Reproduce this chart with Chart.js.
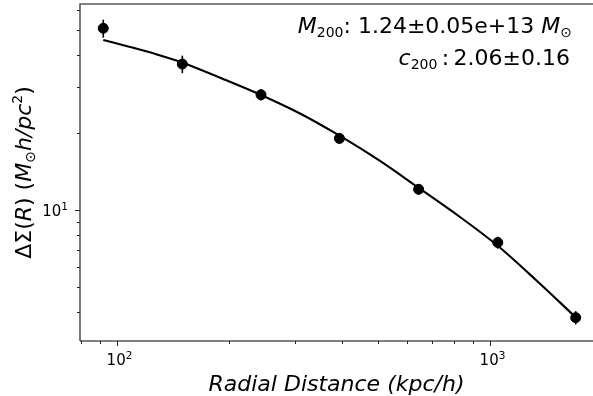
<!DOCTYPE html>
<html>
<head>
<meta charset="utf-8">
<script src="https://cdn.jsdelivr.net/npm/chart.js@4/dist/chart.umd.min.js"></script>
<style>
body { margin: 0; background: #fff; }
canvas { display: block; }
</style>
</head>
<body>
<canvas id="chart" width="593" height="396"></canvas>
<script>
// stacked lensing profile, kpc/h vs M_sun h / pc^2
const radius = [91.9, 149.7, 243.3, 394.6, 643.5, 1049, 1697];
const deltaSigma = [51.0, 37.0, 28.1, 19.0, 12.04, 7.47, 3.81];
const deltaSigmaErr = [4.1, 2.9, 1.4, 0.9, 0.55, 0.4, 0.23];

// best-fit NFW model
const fitRadius = [91.9, 108.4, 128.0, 149.4, 191.2, 243.2, 309.5, 396.2, 507.1, 641.2, 830.8, 1050.6, 1336.5, 1700.6];
const fitDeltaSigma = [45.92, 43.13, 40.33, 37.53, 32.51, 28.05, 23.76, 19.42, 15.52, 12.24, 9.39, 7.24, 5.29, 3.81];

const xTicks = [80, 90, 100, 200, 300, 400, 500, 600, 700, 800, 900, 1000];
const xMajor = [100, 1000];
const yTicks = [4, 5, 6, 7, 8, 9, 10, 20, 30, 40, 50, 60];
const yMajor = [10];

const xRange = [79.6, 1888];
const yRange = [3.09, 63.4];

const FONT = '"DejaVu Sans"';

function drawRuns(ctx, runs, x, y, align) {
    let total = 0;
    runs.forEach(r => {
        ctx.font = r.font;
        r.w = ctx.measureText(r.t).width;
        total += r.w;
    });
    let cx = align === 'right' ? x - total : align === 'center' ? x - total / 2 : x;
    ctx.textAlign = 'left';
    ctx.textBaseline = 'alphabetic';
    runs.forEach(r => {
        ctx.font = r.font;
        ctx.fillText(r.t, cx, y + (r.dy || 0));
        cx += r.w;
    });
}

// 10^n tick label with a raised exponent
function powerLabel(v) {
    return [
        { t: '10', font: `15px ${FONT}` },
        { t: String(Math.round(Math.log10(v))), font: `10.5px ${FONT}`, dy: -6 }
    ];
}

const errorBars = {
    id: 'errorBars',
    afterDatasetsDraw(chart) {
        const { ctx, scales: { x, y } } = chart;
        ctx.save();
        ctx.strokeStyle = '#000';
        ctx.lineWidth = 1.6;
        radius.forEach((r, i) => {
            const px = x.getPixelForValue(r);
            ctx.beginPath();
            ctx.moveTo(px, y.getPixelForValue(deltaSigma[i] + deltaSigmaErr[i]));
            ctx.lineTo(px, y.getPixelForValue(deltaSigma[i] - deltaSigmaErr[i]));
            ctx.stroke();
        });
        ctx.restore();
    }
};

const axisDecor = {
    id: 'axisDecor',
    afterDraw(chart) {
        const { ctx, chartArea: a, scales: { x, y } } = chart;
        ctx.save();

        // spines
        ctx.lineWidth = 1.6;
        ctx.strokeStyle = '#5a5a5a';
        ctx.beginPath();
        ctx.moveTo(a.left, a.bottom);
        ctx.lineTo(a.left, a.top);
        ctx.lineTo(a.right, a.top);
        ctx.stroke();
        ctx.lineWidth = 1.2;
        ctx.strokeStyle = '#000';
        ctx.beginPath();
        ctx.moveTo(a.left, a.bottom);
        ctx.lineTo(a.right, a.bottom);
        ctx.stroke();

        // tick marks, major longer than minor
        ctx.lineWidth = 1;
        ctx.strokeStyle = '#222';
        ctx.fillStyle = '#000';
        xTicks.forEach(v => {
            const px = Math.round(x.getPixelForValue(v)) + 0.5;
            const major = xMajor.includes(v);
            ctx.beginPath();
            ctx.moveTo(px, a.bottom);
            ctx.lineTo(px, a.bottom + (major ? 5 : 3));
            ctx.stroke();
            if (major) drawRuns(ctx, powerLabel(v), px + 2, a.bottom + 24, 'center');
        });
        yTicks.forEach(v => {
            const py = Math.round(y.getPixelForValue(v)) + 0.5;
            const major = yMajor.includes(v);
            ctx.beginPath();
            ctx.moveTo(a.left, py);
            ctx.lineTo(a.left - (major ? 5 : 3), py);
            ctx.stroke();
            if (major) drawRuns(ctx, powerLabel(v), a.left - 12, py + 5, 'right');
        });

        const big = 22, small = 14;
        const reg = `${big}px ${FONT}`;
        const ita = `italic ${big}px ${FONT}`;
        const sub = `${small}px ${FONT}`;

        // fit parameters
        drawRuns(ctx, [
            { t: 'M', font: ita },
            { t: '200', font: sub, dy: 4 },
            { t: ': 1.24\u00b10.05e+13 ', font: reg },
            { t: 'M', font: ita },
            { t: '\u2299', font: sub, dy: 4 }
        ], 572, 33, 'right');
        drawRuns(ctx, [
            { t: 'c', font: ita },
            { t: '200', font: sub, dy: 4 },
            { t: '\u2009:\u20092.06\u00b10.16', font: reg }
        ], 570, 65, 'right');

        // x axis title
        drawRuns(ctx, [
            { t: 'Radial Distance (kpc/h)', font: `italic 22px ${FONT}` }
        ], (a.left + a.right) / 2, 391, 'center');

        // y axis title
        ctx.translate(31, (a.top + a.bottom) / 2);
        ctx.rotate(-Math.PI / 2);
        drawRuns(ctx, [
            { t: '\u0394\u03a3(', font: `22px ${FONT}` },
            { t: 'R', font: `italic 22px ${FONT}` },
            { t: ') (', font: `22px ${FONT}` },
            { t: 'M', font: `italic 22px ${FONT}` },
            { t: '\u2299', font: `14px ${FONT}`, dy: 4 },
            { t: 'h/pc', font: `italic 22px ${FONT}` },
            { t: '2', font: `14px ${FONT}`, dy: -9 },
            { t: ')', font: `22px ${FONT}` }
        ], 0, 0, 'center');

        ctx.restore();
    }
};

function noPadding(scale) {
    scale.paddingLeft = 0;
    scale.paddingRight = 0;
    scale.paddingTop = 0;
    scale.paddingBottom = 0;
}

new Chart(document.getElementById('chart'), {
    type: 'scatter',
    data: {
        datasets: [
            {
                label: 'data',
                data: radius.map((r, i) => ({ x: r, y: deltaSigma[i] })),
                backgroundColor: '#000',
                borderColor: '#000',
                pointRadius: 5,
                pointHoverRadius: 5,
                showLine: false
            },
            {
                label: 'NFW fit',
                data: fitRadius.map((r, i) => ({ x: r, y: fitDeltaSigma[i] })),
                borderColor: '#000',
                borderWidth: 2.1,
                pointRadius: 0,
                showLine: true,
                cubicInterpolationMode: 'monotone'
            }
        ]
    },
    options: {
        responsive: false,
        animation: false,
        devicePixelRatio: 1,
        layout: { autoPadding: false, padding: { top: 4, right: 0, left: 0, bottom: 0 } },
        plugins: {
            legend: { display: false },
            tooltip: { enabled: false }
        },
        scales: {
            x: {
                type: 'logarithmic',
                min: xRange[0],
                max: xRange[1],
                afterBuildTicks: scale => { scale.ticks = xTicks.map(v => ({ value: v })); },
                afterFit: scale => { scale.height = 55; noPadding(scale); },
                border: { display: false },
                grid: { display: false },
                ticks: { display: false }
            },
            y: {
                type: 'logarithmic',
                min: yRange[0],
                max: yRange[1],
                afterBuildTicks: scale => { scale.ticks = yTicks.map(v => ({ value: v })); },
                afterFit: scale => { scale.width = 80; noPadding(scale); },
                border: { display: false },
                grid: { display: false },
                ticks: { display: false }
            }
        }
    },
    plugins: [errorBars, axisDecor]
});
</script>
</body>
</html>
